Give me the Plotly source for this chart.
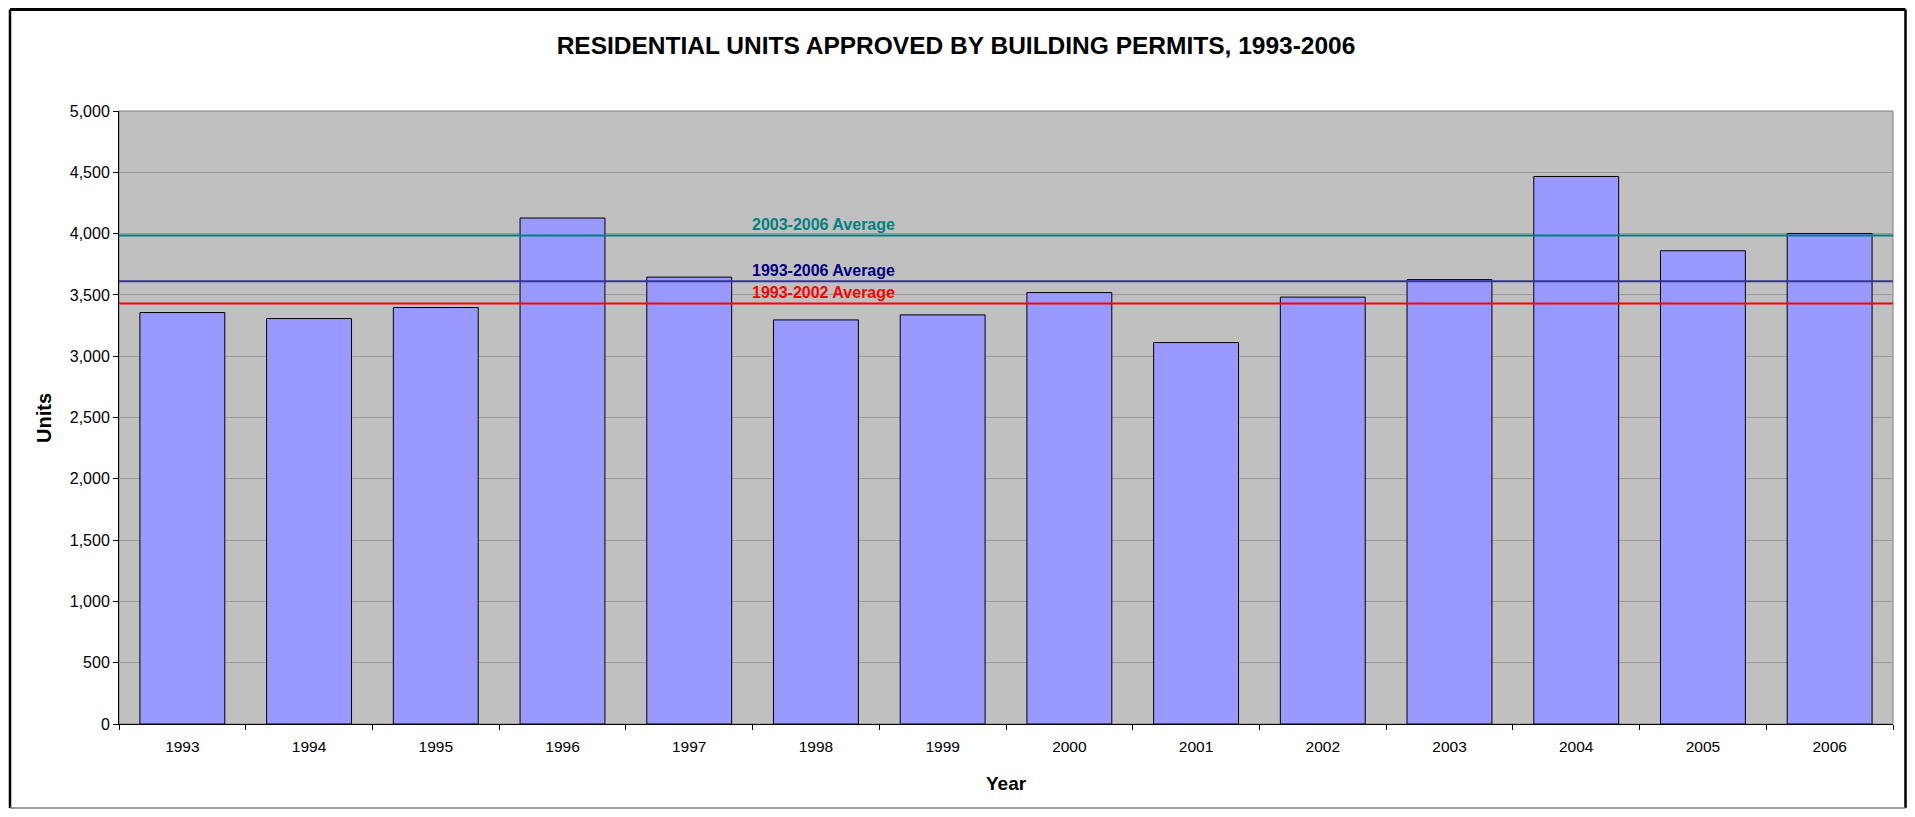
import plotly.graph_objects as go

# Residential units approved by building permits
YEARS = ["1993", "1994", "1995", "1996", "1997", "1998", "1999",
         "2000", "2001", "2002", "2003", "2004", "2005", "2006"]
UNITS = [3356, 3307, 3397, 4127, 3645, 3296, 3337,
         3519, 3111, 3482, 3625, 4466, 3860, 4001]

# reference lines (period averages)
AVG_LABELS = ["2003-2006 Average", "1993-2006 Average", "1993-2002 Average"]
AVG_VALUES = [3985, 3612, 3430]
AVG_LINE_COLORS = ["#008080", "#333399", "#FF0000"]
AVG_TEXT_COLORS = ["#008080", "#000080", "#FF0000"]

FONT = "Liberation Sans, Arial, sans-serif"

# page is 1915 x 817, the body margin puts the figure at (8, 8)
OFF = 8
W, H = 1915 - 2 * OFF, 817 - 2 * OFF
# plot area edges in page pixels
L, R, T, B = 119, 1893, 111, 724


def px_x(px):
    return (px - L) / (R - L)


def px_y(py):
    return (B - py) / (B - T)


fig = go.Figure()
fig.add_trace(go.Bar(
    x=YEARS,
    y=UNITS,
    marker=dict(color="#9999FF", line=dict(color="#000000", width=1)),
    hovertemplate="%{x}: %{y:,}<extra></extra>",
    showlegend=False,
))

# outer chart border (kept inside the figure area)
bx0, bx1, by0, by1 = px_x(10), px_x(OFF + W - 1.5), px_y(OFF + H - 1), px_y(OFF + 1.5)
shapes = [
    # gray frame of plot area
    dict(type="rect", xref="paper", yref="paper", x0=0, x1=1, y0=0, y1=1,
         line=dict(color="#808080", width=1), layer="below"),
    dict(type="line", xref="paper", yref="paper", x0=bx0, x1=bx0, y0=by0, y1=by1,
         line=dict(color="#000000", width=2.5)),
    dict(type="line", xref="paper", yref="paper", x0=bx0, x1=bx1, y0=by1, y1=by1,
         line=dict(color="#000000", width=3)),
    dict(type="line", xref="paper", yref="paper", x0=bx1, x1=bx1, y0=by0, y1=by1,
         line=dict(color="#000000", width=2.5)),
    dict(type="line", xref="paper", yref="paper", x0=bx0, x1=bx1, y0=by0, y1=by0,
         line=dict(color="#808080", width=1.5)),
]
annotations = []
for label, val, lc, tc in zip(AVG_LABELS, AVG_VALUES, AVG_LINE_COLORS, AVG_TEXT_COLORS):
    shapes.append(dict(type="line", xref="paper", yref="y", x0=0, x1=1, y0=val, y1=val,
                       line=dict(color=lc, width=2)))
    annotations.append(dict(
        x=px_x(823), xref="paper", y=val, yref="y", yshift=11,
        text=f"<b>{label}</b>", showarrow=False,
        font=dict(family=FONT, size=16, color=tc),
        xanchor="center", yanchor="middle",
    ))

annotations += [
    dict(text="<b>Units</b>", x=px_x(44), y=px_y(418), xref="paper", yref="paper",
         textangle=-90, showarrow=False, font=dict(family=FONT, size=20, color="#000"),
         xanchor="center", yanchor="middle"),
    dict(text="<b>Year</b>", x=px_x(1006), y=px_y(783), xref="paper", yref="paper",
         showarrow=False, font=dict(family=FONT, size=19, color="#000"),
         xanchor="center", yanchor="middle"),
]

fig.update_layout(
    width=W,
    height=H,
    margin=dict(l=L - OFF, r=W - (R - OFF), t=T - OFF, b=H - (B - OFF)),
    paper_bgcolor="#FFFFFF",
    plot_bgcolor="#C0C0C0",
    bargap=0.33,
    title=dict(
        text="<b>RESIDENTIAL UNITS APPROVED BY BUILDING PERMITS, 1993-2006</b>",
        x=(956 - OFF) / W, xref="container", xanchor="center",
        y=1 - (45 - OFF) / H, yref="container", yanchor="middle",
        font=dict(family=FONT, size=24.5, color="#000"),
    ),
    xaxis=dict(
        type="category",
        tickson="boundaries",
        ticks="outside",
        ticklen=5,
        tickcolor="#000",
        showline=True,
        linecolor="#000",
        linewidth=1,
        showgrid=False,
        ticklabelstandoff=8,
        tickfont=dict(family=FONT, size=15.5, color="#000"),
    ),
    yaxis=dict(
        range=[0, 5000],
        dtick=500,
        tickformat=",",
        ticks="outside",
        ticklen=5,
        tickcolor="#000",
        showline=True,
        linecolor="#000",
        linewidth=1,
        gridcolor="#9A9A9A",
        gridwidth=1,
        zeroline=False,
        tickfont=dict(family=FONT, size=16, color="#000"),
    ),
    shapes=shapes,
    annotations=annotations,
)

fig.write_html("out.html")
